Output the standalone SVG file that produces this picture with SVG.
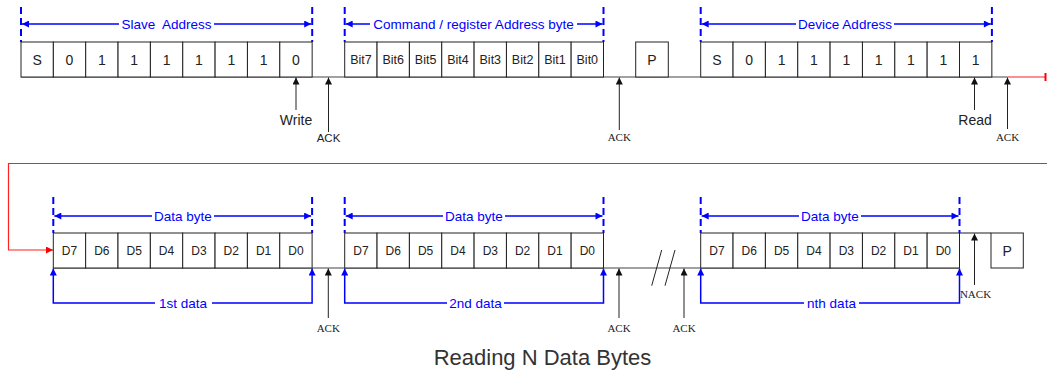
<svg xmlns="http://www.w3.org/2000/svg" width="1047" height="377" viewBox="0 0 1047 377">
<style>
.cell{fill:#fff;stroke:#222;stroke-width:1}
.bit{font-family:"Liberation Sans",Arial,sans-serif;font-size:14px;fill:#222;text-anchor:middle}
.bitn{font-family:"Liberation Sans",Arial,sans-serif;font-size:12.5px;fill:#222;text-anchor:middle}
.dn{font-family:"Liberation Sans",Arial,sans-serif;font-size:12px;fill:#222;text-anchor:middle}
.lbl{font-family:"Liberation Sans",Arial,sans-serif;font-size:13.5px;fill:#0000ff;text-anchor:middle}
.gap{fill:#fff;stroke:none}
.note{font-family:"Liberation Sans",Arial,sans-serif;font-size:14px;fill:#222;text-anchor:middle}
.ack{font-family:"Liberation Serif","Times New Roman",serif;font-size:11px;fill:#222;text-anchor:middle}
.acks{font-family:"Liberation Sans",Arial,sans-serif;font-size:11.5px;fill:#222;text-anchor:middle}
.dash{stroke:#0000ff;stroke-width:2;stroke-dasharray:7,4;fill:none}
.blu{stroke:#0000ff;stroke-width:1.5;fill:none}
.bk{stroke:#222;stroke-width:1;fill:none}
.base{stroke:#444;stroke-width:1.2;fill:none}
.red{stroke:#ff2020;stroke-width:1.2;fill:none}
</style>
<defs>
<marker id="ab" viewBox="0 0 10 10" refX="10" refY="5" markerUnits="userSpaceOnUse" markerWidth="10" markerHeight="7" orient="auto"><path d="M0,0 L10,5 L0,10 z" fill="#111"/></marker>
<marker id="au" viewBox="0 0 10 10" refX="10" refY="5" markerUnits="userSpaceOnUse" markerWidth="11" markerHeight="7" orient="auto-start-reverse"><path d="M0,0 L10,5 L0,10 z" fill="#0000ff"/></marker>
<marker id="ar" viewBox="0 0 10 10" refX="10" refY="5" markerUnits="userSpaceOnUse" markerWidth="11" markerHeight="7" orient="auto"><path d="M0,0 L10,5 L0,10 z" fill="#ff0000"/></marker>
</defs>

<g id="connectors">
  <!-- signal baselines -->
  <line class="base" x1="21" y1="77" x2="1007.5" y2="77"/>
  <line class="red" x1="1007.5" y1="77" x2="1046" y2="77"/>
  <line x1="1045.5" y1="73" x2="1045.5" y2="81" stroke="#ff0000" stroke-width="2"/>
  <path class="red" d="M1047,163.5 L8.5,163.5 L8.5,250 L53,250" marker-end="url(#ar)"/>
  <line class="base" x1="53" y1="268" x2="959.5" y2="268" stroke="#777"/>
  <line class="base" x1="959.5" y1="233" x2="991" y2="233"/>
  <line class="bk" x1="651.7" y1="285.7" x2="661.7" y2="250"/>
  <line class="bk" x1="665" y1="285.7" x2="675" y2="250"/>

  <!-- top blue ranges -->
  <line class="dash" x1="21" y1="7" x2="21" y2="42"/>
  <line class="dash" x1="312.2" y1="7" x2="312.2" y2="42"/>
  <line class="blu" x1="22" y1="24" x2="311.2" y2="24" marker-start="url(#au)" marker-end="url(#au)"/>
  <rect class="gap" x="119" y="17" width="95" height="14"/>
  <text class="lbl" x="166.5" y="28.5" xml:space="preserve">Slave  Address</text>

  <line class="dash" x1="344.7" y1="7" x2="344.7" y2="42"/>
  <line class="dash" x1="603.5" y1="7" x2="603.5" y2="42"/>
  <line class="blu" x1="345.7" y1="24" x2="602.5" y2="24" marker-start="url(#au)" marker-end="url(#au)"/>
  <rect class="gap" x="370" y="17" width="207" height="14"/>
  <text class="lbl" x="473.5" y="28.5">Command / register Address byte</text>

  <line class="dash" x1="700.7" y1="7" x2="700.7" y2="42"/>
  <line class="dash" x1="991.9" y1="7" x2="991.9" y2="42"/>
  <line class="blu" x1="701.7" y1="24" x2="990.9" y2="24" marker-start="url(#au)" marker-end="url(#au)"/>
  <rect class="gap" x="796" y="17" width="98" height="14"/>
  <text class="lbl" x="845" y="28.5">Device Address</text>

  <!-- bottom blue ranges -->
  <line class="dash" x1="53.3" y1="197" x2="53.3" y2="233"/>
  <line class="dash" x1="312.1" y1="197" x2="312.1" y2="233"/>
  <line class="blu" x1="54.3" y1="216" x2="311.1" y2="216" marker-start="url(#au)" marker-end="url(#au)"/>
  <rect class="gap" x="152" y="209" width="62" height="14"/>
  <text class="lbl" x="183" y="220.5">Data byte</text>

  <line class="dash" x1="344.7" y1="197" x2="344.7" y2="233"/>
  <line class="dash" x1="603.5" y1="197" x2="603.5" y2="233"/>
  <line class="blu" x1="345.7" y1="216" x2="602.5" y2="216" marker-start="url(#au)" marker-end="url(#au)"/>
  <rect class="gap" x="443" y="209" width="62" height="14"/>
  <text class="lbl" x="474" y="220.5">Data byte</text>

  <line class="dash" x1="700.7" y1="197" x2="700.7" y2="233"/>
  <line class="dash" x1="959.5" y1="197" x2="959.5" y2="233"/>
  <line class="blu" x1="701.7" y1="216" x2="958.5" y2="216" marker-start="url(#au)" marker-end="url(#au)"/>
  <rect class="gap" x="799" y="209" width="62" height="14"/>
  <text class="lbl" x="830" y="220.5">Data byte</text>

  <path class="blu" d="M53.3,290 L53.3,303 L312.1,303 L312.1,290"/>
  <line class="blu" x1="53.3" y1="290" x2="53.3" y2="268.5" marker-end="url(#au)"/>
  <line class="blu" x1="312.1" y1="290" x2="312.1" y2="268.5" marker-end="url(#au)"/>
  <rect class="gap" x="155" y="296" width="57" height="14"/>
  <text class="lbl" x="183" y="307.5">1st data</text>

  <path class="blu" d="M344.7,290 L344.7,303 L603.5,303 L603.5,290"/>
  <line class="blu" x1="344.7" y1="290" x2="344.7" y2="268.5" marker-end="url(#au)"/>
  <line class="blu" x1="603.5" y1="290" x2="603.5" y2="268.5" marker-end="url(#au)"/>
  <rect class="gap" x="447" y="296" width="57" height="14"/>
  <text class="lbl" x="475.5" y="307.5">2nd data</text>

  <path class="blu" d="M700.7,290 L700.7,303 L959.5,303 L959.5,290"/>
  <line class="blu" x1="700.7" y1="290" x2="700.7" y2="268.5" marker-end="url(#au)"/>
  <line class="blu" x1="959.5" y1="290" x2="959.5" y2="268.5" marker-end="url(#au)"/>
  <rect class="gap" x="804" y="296" width="55" height="14"/>
  <text class="lbl" x="831.5" y="307.5">nth data</text>

  <!-- black pointer arrows -->
  <line class="bk" x1="296" y1="110" x2="296" y2="77.5" marker-end="url(#ab)"/>
  <text class="note" x="296" y="125">Write</text>
  <line class="bk" x1="328.5" y1="132" x2="328.5" y2="77.5" marker-end="url(#ab)"/>
  <text class="acks" x="328.5" y="141.5">ACK</text>
  <line class="bk" x1="619.3" y1="130" x2="619.3" y2="77.5" marker-end="url(#ab)"/>
  <text class="ack" x="619.3" y="140.5">ACK</text>
  <line class="bk" x1="974.5" y1="110" x2="974.5" y2="77.5" marker-end="url(#ab)"/>
  <text class="note" x="975" y="125">Read</text>
  <line class="bk" x1="1007.5" y1="129" x2="1007.5" y2="77.5" marker-end="url(#ab)"/>
  <text class="ack" x="1007.5" y="140.5">ACK</text>

  <line class="bk" x1="328.3" y1="318" x2="328.3" y2="268.5" marker-end="url(#ab)"/>
  <text class="ack" x="328.3" y="331.5">ACK</text>
  <line class="bk" x1="619" y1="318" x2="619" y2="268.5" marker-end="url(#ab)"/>
  <text class="ack" x="619" y="331.5">ACK</text>
  <line class="bk" x1="684" y1="318" x2="684" y2="268.5" marker-end="url(#ab)"/>
  <text class="ack" x="684" y="331.5">ACK</text>
  <line class="bk" x1="974.5" y1="285" x2="974.5" y2="233.5" marker-end="url(#ab)"/>
  <text class="ack" x="975.5" y="298">NACK</text>
</g>

<g id="slave-address">
  <rect class="cell" x="21" y="42" width="32.35" height="35"/>
  <rect class="cell" x="53.35" y="42" width="32.35" height="35"/>
  <rect class="cell" x="85.7" y="42" width="32.35" height="35"/>
  <rect class="cell" x="118.05" y="42" width="32.35" height="35"/>
  <rect class="cell" x="150.4" y="42" width="32.35" height="35"/>
  <rect class="cell" x="182.75" y="42" width="32.35" height="35"/>
  <rect class="cell" x="215.1" y="42" width="32.35" height="35"/>
  <rect class="cell" x="247.45" y="42" width="32.35" height="35"/>
  <rect class="cell" x="279.8" y="42" width="32.35" height="35"/>
  <text class="bit" x="37.2" y="64.5">S</text>
  <text class="bit" x="69.5" y="64.5">0</text>
  <text class="bit" x="101.9" y="64.5">1</text>
  <text class="bit" x="134.2" y="64.5">1</text>
  <text class="bit" x="166.6" y="64.5">1</text>
  <text class="bit" x="198.9" y="64.5">1</text>
  <text class="bit" x="231.3" y="64.5">1</text>
  <text class="bit" x="263.6" y="64.5">1</text>
  <text class="bit" x="296" y="64.5">0</text>
</g>

<g id="command-byte">
  <rect class="cell" x="344.7" y="42" width="32.35" height="35"/>
  <rect class="cell" x="377.05" y="42" width="32.35" height="35"/>
  <rect class="cell" x="409.4" y="42" width="32.35" height="35"/>
  <rect class="cell" x="441.75" y="42" width="32.35" height="35"/>
  <rect class="cell" x="474.1" y="42" width="32.35" height="35"/>
  <rect class="cell" x="506.45" y="42" width="32.35" height="35"/>
  <rect class="cell" x="538.8" y="42" width="32.35" height="35"/>
  <rect class="cell" x="571.15" y="42" width="32.35" height="35"/>
  <text class="bitn" x="360.9" y="64">Bit7</text>
  <text class="bitn" x="393.2" y="64">Bit6</text>
  <text class="bitn" x="425.6" y="64">Bit5</text>
  <text class="bitn" x="457.9" y="64">Bit4</text>
  <text class="bitn" x="490.3" y="64">Bit3</text>
  <text class="bitn" x="522.6" y="64">Bit2</text>
  <text class="bitn" x="555" y="64">Bit1</text>
  <text class="bitn" x="587.3" y="64">Bit0</text>
</g>

<g id="stop-1">
  <rect class="cell" x="635.7" y="42" width="32.6" height="35"/>
  <text class="bit" x="652" y="64.5">P</text>
</g>

<g id="device-address">
  <rect class="cell" x="700.7" y="42" width="32.35" height="35"/>
  <rect class="cell" x="733.05" y="42" width="32.35" height="35"/>
  <rect class="cell" x="765.4" y="42" width="32.35" height="35"/>
  <rect class="cell" x="797.75" y="42" width="32.35" height="35"/>
  <rect class="cell" x="830.1" y="42" width="32.35" height="35"/>
  <rect class="cell" x="862.45" y="42" width="32.35" height="35"/>
  <rect class="cell" x="894.8" y="42" width="32.35" height="35"/>
  <rect class="cell" x="927.15" y="42" width="32.35" height="35"/>
  <rect class="cell" x="959.5" y="42" width="32.35" height="35"/>
  <text class="bit" x="716.9" y="64.5">S</text>
  <text class="bit" x="749.2" y="64.5">0</text>
  <text class="bit" x="781.6" y="64.5">1</text>
  <text class="bit" x="813.9" y="64.5">1</text>
  <text class="bit" x="846.3" y="64.5">1</text>
  <text class="bit" x="878.6" y="64.5">1</text>
  <text class="bit" x="911" y="64.5">1</text>
  <text class="bit" x="943.3" y="64.5">1</text>
  <text class="bit" x="975.7" y="64.5">1</text>
</g>

<g id="data-byte-1">
  <rect class="cell" x="53.3" y="233" width="32.35" height="35"/>
  <rect class="cell" x="85.65" y="233" width="32.35" height="35"/>
  <rect class="cell" x="118" y="233" width="32.35" height="35"/>
  <rect class="cell" x="150.35" y="233" width="32.35" height="35"/>
  <rect class="cell" x="182.7" y="233" width="32.35" height="35"/>
  <rect class="cell" x="215.05" y="233" width="32.35" height="35"/>
  <rect class="cell" x="247.4" y="233" width="32.35" height="35"/>
  <rect class="cell" x="279.75" y="233" width="32.35" height="35"/>
  <text class="dn" x="69.5" y="255">D7</text>
  <text class="dn" x="101.8" y="255">D6</text>
  <text class="dn" x="134.2" y="255">D5</text>
  <text class="dn" x="166.5" y="255">D4</text>
  <text class="dn" x="198.9" y="255">D3</text>
  <text class="dn" x="231.2" y="255">D2</text>
  <text class="dn" x="263.6" y="255">D1</text>
  <text class="dn" x="295.9" y="255">D0</text>
</g>

<g id="data-byte-2">
  <rect class="cell" x="344.7" y="233" width="32.35" height="35"/>
  <rect class="cell" x="377.05" y="233" width="32.35" height="35"/>
  <rect class="cell" x="409.4" y="233" width="32.35" height="35"/>
  <rect class="cell" x="441.75" y="233" width="32.35" height="35"/>
  <rect class="cell" x="474.1" y="233" width="32.35" height="35"/>
  <rect class="cell" x="506.45" y="233" width="32.35" height="35"/>
  <rect class="cell" x="538.8" y="233" width="32.35" height="35"/>
  <rect class="cell" x="571.15" y="233" width="32.35" height="35"/>
  <text class="dn" x="360.9" y="255">D7</text>
  <text class="dn" x="393.2" y="255">D6</text>
  <text class="dn" x="425.6" y="255">D5</text>
  <text class="dn" x="457.9" y="255">D4</text>
  <text class="dn" x="490.3" y="255">D3</text>
  <text class="dn" x="522.6" y="255">D2</text>
  <text class="dn" x="555" y="255">D1</text>
  <text class="dn" x="587.3" y="255">D0</text>
</g>

<g id="data-byte-n">
  <rect class="cell" x="700.7" y="233" width="32.35" height="35"/>
  <rect class="cell" x="733.05" y="233" width="32.35" height="35"/>
  <rect class="cell" x="765.4" y="233" width="32.35" height="35"/>
  <rect class="cell" x="797.75" y="233" width="32.35" height="35"/>
  <rect class="cell" x="830.1" y="233" width="32.35" height="35"/>
  <rect class="cell" x="862.45" y="233" width="32.35" height="35"/>
  <rect class="cell" x="894.8" y="233" width="32.35" height="35"/>
  <rect class="cell" x="927.15" y="233" width="32.35" height="35"/>
  <text class="dn" x="716.9" y="255">D7</text>
  <text class="dn" x="749.2" y="255">D6</text>
  <text class="dn" x="781.6" y="255">D5</text>
  <text class="dn" x="813.9" y="255">D4</text>
  <text class="dn" x="846.3" y="255">D3</text>
  <text class="dn" x="878.6" y="255">D2</text>
  <text class="dn" x="911" y="255">D1</text>
  <text class="dn" x="943.3" y="255">D0</text>
</g>

<g id="stop-2">
  <rect class="cell" x="991" y="233" width="32.3" height="35"/>
  <text class="bit" x="1007.2" y="255.5">P</text>
</g>

<g id="title">
  <text x="542.5" y="365" font-family="'Liberation Sans',Arial,sans-serif" font-size="22" fill="#333" text-anchor="middle">Reading N Data Bytes</text>
</g>
</svg>
